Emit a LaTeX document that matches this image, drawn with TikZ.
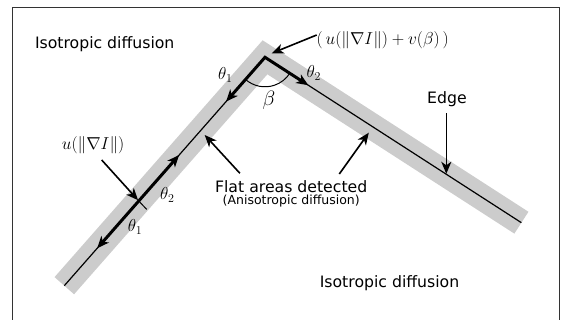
\documentclass[tikz,border=0pt]{standalone}
\usepackage{fontspec}
\newfontfamily\dejavu{DejaVu Sans}
\usetikzlibrary{arrows.meta,angles,calc}
\definecolor{bandgray}{HTML}{CCCCCC}
\definecolor{framegray}{HTML}{333333}
\begin{document}
\begin{tikzpicture}[x=1pt,y=-1pt,
  band/.style={line width=26pt,draw=bandgray,line join=miter,line cap=butt},
  edgeline/.style={line width=1.2pt,line join=miter},
  tip/.style={-{Stealth[length=12pt,width=10pt,inset=3.5pt]}},
  thickarrow/.style={line width=3pt,line join=miter,{Stealth[length=12pt,width=10pt,inset=3.5pt]}-{Stealth[length=12pt,width=10pt,inset=3.5pt]}},
  annot/.style={line width=1.6pt,tip},
  sans/.style={font=\dejavu\fontsize{15.7}{18}\selectfont,inner sep=0pt},
  smallsans/.style={font=\dejavu\fontsize{12.5}{15}\selectfont,inner sep=0pt},
  mth/.style={font=\fontsize{17.7}{21}\selectfont,inner sep=0pt},
]
\useasboundingbox (0,0) rectangle (562,320);
% frame
\draw[line width=1.3pt,draw=framegray] (12.5,322) -- (12.5,7.5) -- (559.5,7.5) -- (559.5,322);

% edge points
\coordinate (A) at (64.3,285.7);
\coordinate (V) at (265,57.3);
\coordinate (B) at (521.4,222.7);

% grey band and edge line
\draw[band] (A) -- (V) -- (B);
\draw[edgeline] (A) -- (V) -- (B);

% thick arrows at the corner
\coordinate (c1) at ($(A)!0.806!(V)$);
\coordinate (c2) at ($(V)!0.169!(B)$);
\draw[thickarrow] (c1) -- (V) -- (c2);

% thick arrows on the straight part
\coordinate (lowtip) at ($(A)!0.164!(V)$);
\coordinate (mid) at ($(A)!0.371!(V)$);
\coordinate (uptip) at ($(A)!0.572!(V)$);
\draw[thickarrow] (lowtip) -- (uptip);
\coordinate (tickend) at ($(mid)+(8,8.5)$);
\draw[line width=1pt] (mid) -- (tickend);

% beta arc
\pic[draw,line width=1pt,angle radius=29.5pt] {angle=A--V--B};

% labels
\node[sans,anchor=base west] (iso1) at (34.8,48.3) {Isotropic diffusion};
\node[sans,anchor=base west] (iso2) at (319.6,287.5) {Isotropic diffusion};
\node[sans,anchor=base west] (edge) at (427,103.3) {Edge};
\node[sans,anchor=base] (flat) at (291.2,193) {Flat areas detected};
\node[smallsans,anchor=base] (aniso) at (291.2,205) {(Anisotropic diffusion)};

\node[mth,anchor=base west] (top) at (316.5,45) {$(\,u(\|\nabla I\|)+v(\beta)\,)$};
\node[mth,anchor=base west] (th1a) at (218,80) {$\theta_1$};
\node[mth,anchor=base west] (th2a) at (306.5,78) {$\theta_2$};
\node[font=\fontsize{21}{25}\selectfont,inner sep=0pt,anchor=base west] (beta) at (262.5,105.5) {$\beta$};
\node[mth,anchor=base west] (th2b) at (160,200) {$\theta_2$};
\node[mth,anchor=base west] (th1b) at (127.7,231.7) {$\theta_1$};
\node[mth,anchor=base west] (ulab) at (61.7,150) {$u(\|\nabla I\|)$};

% annotation arrows
\coordinate (topTail) at (316.7,35);
\coordinate (topTip) at (271.7,53.3);
\draw[annot] (topTail) -- (topTip);
\coordinate (uTail) at (101.7,160);
\draw[annot,shorten >=1pt] (uTail) -- (mid);
\coordinate (eTail) at (446.3,113.3);
\coordinate (eTip) at (446.3,173.8);
\draw[annot] (eTail) -- (eTip);
\coordinate (fTailL) at (239.9,173.3);
\coordinate (fTipL) at (204.7,135);
\draw[annot] (fTailL) -- (fTipL);
\coordinate (fTailR) at (339.3,174);
\coordinate (fTipR) at (368.8,132.7);
\draw[annot] (fTailR) -- (fTipR);
\end{tikzpicture}
\end{document}
